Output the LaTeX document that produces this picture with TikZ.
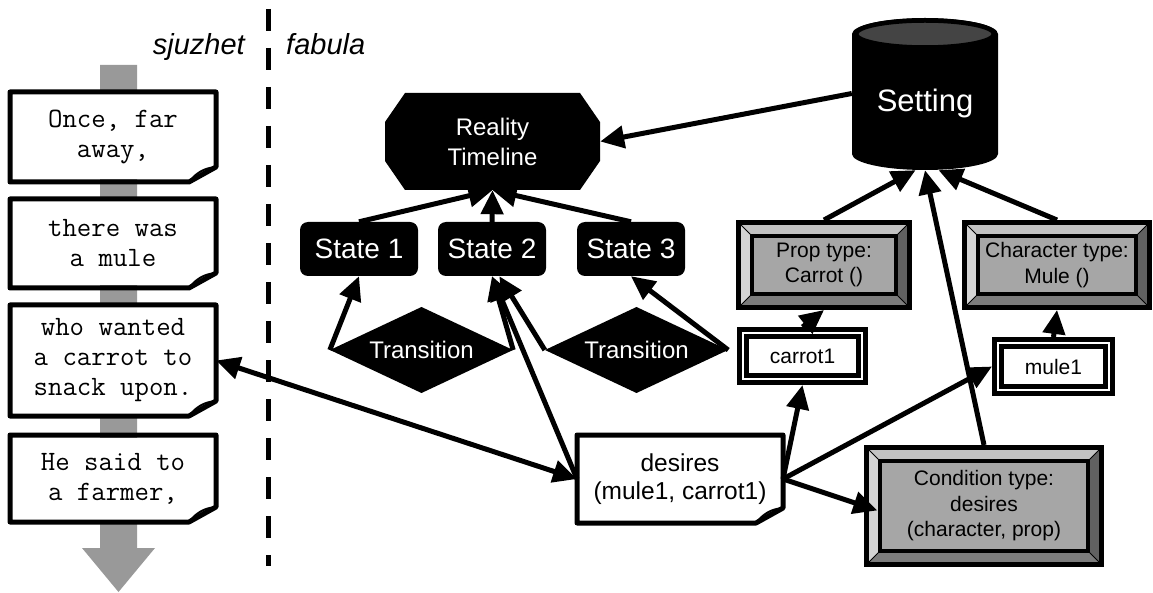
\documentclass[tikz,border=0pt]{standalone}
\usepackage{fontspec}
\setmainfont{Liberation Sans}
\setsansfont{Liberation Sans}
\setmonofont{Latin Modern Mono}
\usetikzlibrary{arrows.meta,calc}

\definecolor{flowgrey}{HTML}{999999}
\definecolor{bevmid}{HTML}{A6A6A6}
\definecolor{bevtop}{HTML}{C2C2C2}
\definecolor{bevleft}{HTML}{D4D4D4}
\definecolor{bevright}{HTML}{616161}
\definecolor{bevbottom}{HTML}{7C7C7C}
\definecolor{canlid}{HTML}{444444}

% outline of a page with a folded bottom-right corner
\newcommand\noteframe[1]{%
  \draw[line width=5pt,line join=round]
    (#1.north west) -- (#1.north east) -- ([yshift=15pt]#1.south east)
    -- ([xshift=-27pt]#1.south east) -- (#1.south west) -- cycle;
  \draw[line width=2pt]
    ([xshift=-27pt]#1.south east) .. controls ([xshift=-20pt,yshift=9pt]#1.south east)
    and ([xshift=-12pt,yshift=14pt]#1.south east) .. ([yshift=15pt]#1.south east);
}

\tikzset{
  lbl/.style={inner sep=0pt, font=\fontsize{29}{34}\selectfont\itshape},
  note/.style={fill=white, inner sep=0pt, outer sep=2.5pt, minimum width=201pt,
    align=center, font=\fontsize{28}{30}\selectfont\ttfamily},
  statebox/.style={fill=black, rounded corners=8pt, text=white, inner sep=0pt,
    minimum height=54pt, font=\fontsize{28}{34}\selectfont},
  octo/.style={fill=white, inner sep=0pt, text=white, align=center,
    font=\fontsize{24}{30}\selectfont,
    path picture={\fill[black]
      ([xshift=20pt]path picture bounding box.north west) --
      ([xshift=-20pt]path picture bounding box.north east) --
      ([yshift=-29pt]path picture bounding box.north east) --
      ([yshift=29pt]path picture bounding box.south east) --
      ([xshift=-20pt]path picture bounding box.south east) --
      ([xshift=20pt]path picture bounding box.south west) --
      ([yshift=29pt]path picture bounding box.south west) --
      ([yshift=-29pt]path picture bounding box.north west) -- cycle;}},
  diam/.style={fill=white, inner sep=0pt, minimum width=183pt, minimum height=86pt,
    text=white, font=\fontsize{24}{28}\selectfont,
    path picture={\fill[black]
      (path picture bounding box.north) -- (path picture bounding box.east) --
      (path picture bounding box.south) -- (path picture bounding box.west) -- cycle;}},
  can/.style={fill=white, inner sep=0pt, text=white, font=\fontsize{31}{36}\selectfont,
    text height=37pt, text depth=0pt,
    path picture={
      \fill[black] ([yshift=-17pt]path picture bounding box.north west)
        -- ([yshift=16pt]path picture bounding box.south west)
        arc[start angle=180, end angle=360, x radius=73pt, y radius=16pt]
        -- ([yshift=-17pt]path picture bounding box.north east)
        arc[start angle=0, end angle=180, x radius=73pt, y radius=16pt] -- cycle;
      \filldraw[fill=canlid, draw=black, line width=4.5pt]
        ([yshift=-17pt]path picture bounding box.north)
        ellipse[x radius=69pt, y radius=13.5pt];}},
  bevelbox/.style={draw, line width=5pt, fill=bevmid, inner sep=0pt, align=center,
    font=\fontsize{21}{25.5}\selectfont,
    path picture={
      \fill[bevtop] (path picture bounding box.north west) -- (path picture bounding box.north east)
        -- ([shift={(-13.5pt,-13.5pt)}]path picture bounding box.north east)
        -- ([shift={(13.5pt,-13.5pt)}]path picture bounding box.north west) -- cycle;
      \fill[bevright] (path picture bounding box.north east) -- (path picture bounding box.south east)
        -- ([shift={(-13.5pt,13.5pt)}]path picture bounding box.south east)
        -- ([shift={(-13.5pt,-13.5pt)}]path picture bounding box.north east) -- cycle;
      \fill[bevbottom] (path picture bounding box.south east) -- (path picture bounding box.south west)
        -- ([shift={(13.5pt,13.5pt)}]path picture bounding box.south west)
        -- ([shift={(-13.5pt,13.5pt)}]path picture bounding box.south east) -- cycle;
      \fill[bevleft] (path picture bounding box.south west) -- (path picture bounding box.north west)
        -- ([shift={(13.5pt,-13.5pt)}]path picture bounding box.north west)
        -- ([shift={(13.5pt,13.5pt)}]path picture bounding box.south west) -- cycle;
      \draw[line width=0.8pt]
        (path picture bounding box.north west) -- ++(13.5pt,-13.5pt)
        (path picture bounding box.north east) -- ++(-13.5pt,-13.5pt)
        (path picture bounding box.south east) -- ++(-13.5pt,13.5pt)
        (path picture bounding box.south west) -- ++(13.5pt,13.5pt);
      \draw[line width=4pt]
        ([shift={(13.5pt,-13.5pt)}]path picture bounding box.north west) rectangle
        ([shift={(-13.5pt,13.5pt)}]path picture bounding box.south east);}},
  dbox/.style={draw, line width=5pt, double=white, double distance=2pt, fill=white,
    inner sep=0pt, outer sep=6pt, font=\fontsize{21}{25}\selectfont},
  conn/.style={line width=5pt, -{Triangle[length=24pt,width=22pt]}},
  both/.style={line width=5pt, {Triangle[length=24pt,width=22pt]}-{Triangle[length=24pt,width=22pt]}}
}

\begin{document}
\begin{tikzpicture}[x=1pt,y=-1pt]
\useasboundingbox (0,0) rectangle (1153,593);

% reading order of the told story
\fill[flowgrey] (100,65) -- (137,65) -- (137,548) -- (155,548) -- (118.5,592)
  -- (82,548) -- (100,548) -- cycle;

% divider between told story and story world
\draw[line width=5pt, dash pattern=on 22pt off 17pt] (268,9) -- (268,566);

\node[lbl, anchor=base east] (sj) at (245,55) {sjuzhet};
\node[lbl, anchor=base west] (fa) at (286,55) {fabula};

% story text fragments
\node[note, minimum height=85pt] (n1) at (113,137) {Once, far\\away,};
\noteframe{n1}
\node[note, minimum height=84pt] (n2) at (113,243.5) {there was\\a mule};
\noteframe{n2}
\node[note, minimum height=106pt] (n3) at (113,360.5) {who wanted\\a carrot to\\snack upon.};
\noteframe{n3}
\node[note, minimum height=82pt] (n4) at (113,478.5) {He said to\\a farmer,};
\noteframe{n4}

% timeline and states
\node[octo, minimum width=215pt, minimum height=97pt] (tl) at (492.5,141.5) {Reality\\Timeline};
\node[statebox, minimum width=118pt] (s1) at (359,249) {State 1};
\node[statebox, minimum width=108pt] (s2) at (492,249) {State 2};
\node[statebox, minimum width=108pt] (s3) at (631,249) {State 3};
\node[diam] (t1) at (421.5,350) {Transition};
\node[diam] (t2) at (636.5,350) {Transition};

% setting and its types
\node[can, minimum width=146pt, minimum height=153pt] (set) at (925,93.5) {Setting};
\node[bevelbox, minimum width=171pt, minimum height=85pt] (prop) at (824,265) {Prop type:\\Carrot ()};
\node[bevelbox, minimum width=185pt, minimum height=85pt] (char) at (1057,265) {Character type:\\Mule ()};
\node[bevelbox, minimum width=235pt, minimum height=117pt] (cond) at (984,506) {Condition type:\\desires\\(character, prop)};
\node[dbox, minimum width=119pt, minimum height=46pt] (carrot) at (802.5,356) {carrot1};
\node[dbox, minimum width=111pt, minimum height=47pt] (mule) at (1053.5,366.5) {mule1};

% the condition instance
\node[note, minimum height=83pt, font=\fontsize{24.5}{28}\selectfont] (des) at (680,479) {desires\\(mule1, carrot1)};
\noteframe{des}

% connectors
\draw[conn] (set.west) -- (tl.east);
\draw[conn] (s1.north) -- (tl.south);
\draw[conn] (s3.north) -- (tl.south);
\draw[conn] (s2.north) -- (tl.south);
\draw[conn] (t1.west) -- (s1.south);
\draw[conn] (t1.east) -- (s2.south);
\draw[conn] (t2.west) -- (s2.-75);
\draw[conn] (t2.east) -- (s3.south);
\draw[conn] (des.west) -- (s2.south);
\draw[both] (n3.east) -- (des.west);
\draw[conn] (des.east) -- (carrot.south);
\draw[conn] (des.east) -- (mule.west);
\draw[conn, shorten >=-14pt] (des.east) -- (cond.west);
\draw[conn] (carrot.north) -- (prop.south);
\draw[conn] (mule.north) -- (char.south);
\draw[conn] (prop.north) -- (set.-97);
\draw[conn] (char.north) -- (set.-80);
\draw[conn] (cond.north) -- (set.south);
\end{tikzpicture}
\end{document}
